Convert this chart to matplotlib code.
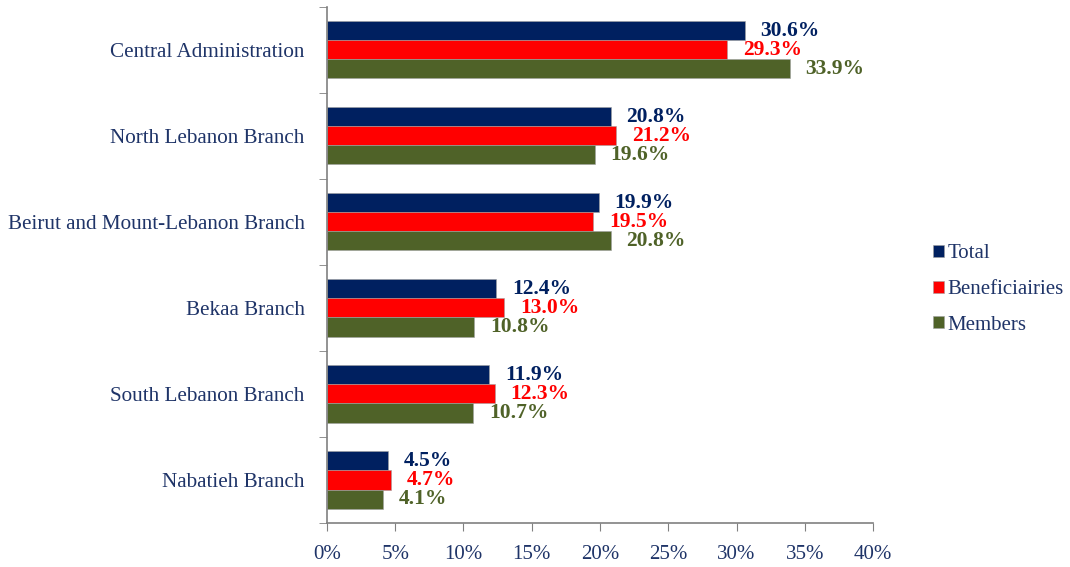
import matplotlib.pyplot as plt
import numpy as np

plt.rcParams['font.family'] = ['Liberation Serif', 'DejaVu Serif']

categories = ['Central Administration', 'North Lebanon Branch', 'Beirut and Mount-Lebanon Branch',
              'Bekaa Branch', 'South Lebanon Branch', 'Nabatieh Branch']
total = [30.6, 20.8, 19.9, 12.4, 11.9, 4.5]
beneficiaries = [29.3, 21.2, 19.5, 13.0, 12.3, 4.7]
members = [33.9, 19.6, 20.8, 10.8, 10.7, 4.1]

series = [('Total', total, '#002060'),
          ('Beneficiairies', beneficiaries, '#FF0000'),
          ('Members', members, '#4F6228')]
text_col = '#1F3468'

fig = plt.figure(figsize=(10.7, 5.67), dpi=100)
ax = fig.add_axes([0.3056, 0.0776, 0.5103, 0.9106])

y = np.arange(len(categories))
h = 0.222
for i, (name, vals, col) in enumerate(series):
    pos = y + (i - 1) * h
    ax.barh(pos, vals, height=h, color=col, label=name, edgecolor='#A0A0A0', linewidth=0.4)
    for p, v in zip(pos, vals):
        ax.text(v + 1.15, p, f'{v:.1f}%', va='center', ha='left', color=col,
                fontsize=15.5, fontweight='bold')

ax.set_ylim(len(categories) - 0.5, -0.5)
ax.set_xlim(0, 40)
ax.set_xticks(np.arange(0, 41, 5))
ax.set_xticklabels([f'{t}%' for t in range(0, 41, 5)])
ax.set_yticks(y)
ax.set_yticklabels(categories)
ax.set_yticks(np.arange(-0.5, len(categories), 1), minor=True)
ax.tick_params(axis='y', which='major', length=0, pad=16, labelsize=15.2, labelcolor=text_col)
ax.tick_params(axis='y', which='minor', length=6, color='#808080', direction='out')
ax.tick_params(axis='x', length=6, color='#808080', direction='out', pad=10, labelsize=15,
               labelcolor=text_col)
for s in ['top', 'right']:
    ax.spines[s].set_visible(False)
for s in ['left', 'bottom']:
    ax.spines[s].set_color('#808080')
    ax.spines[s].set_linewidth(1.2)

leg = ax.legend(loc='center left', bbox_to_anchor=(1.095, 0.452), frameon=False, fontsize=15,
                handlelength=0.5, handleheight=0.5, handletextpad=0.2, labelspacing=0.8,
                borderaxespad=0.0)
for t in leg.get_texts():
    t.set_color(text_col)

fig.savefig('out.png', dpi=100)
